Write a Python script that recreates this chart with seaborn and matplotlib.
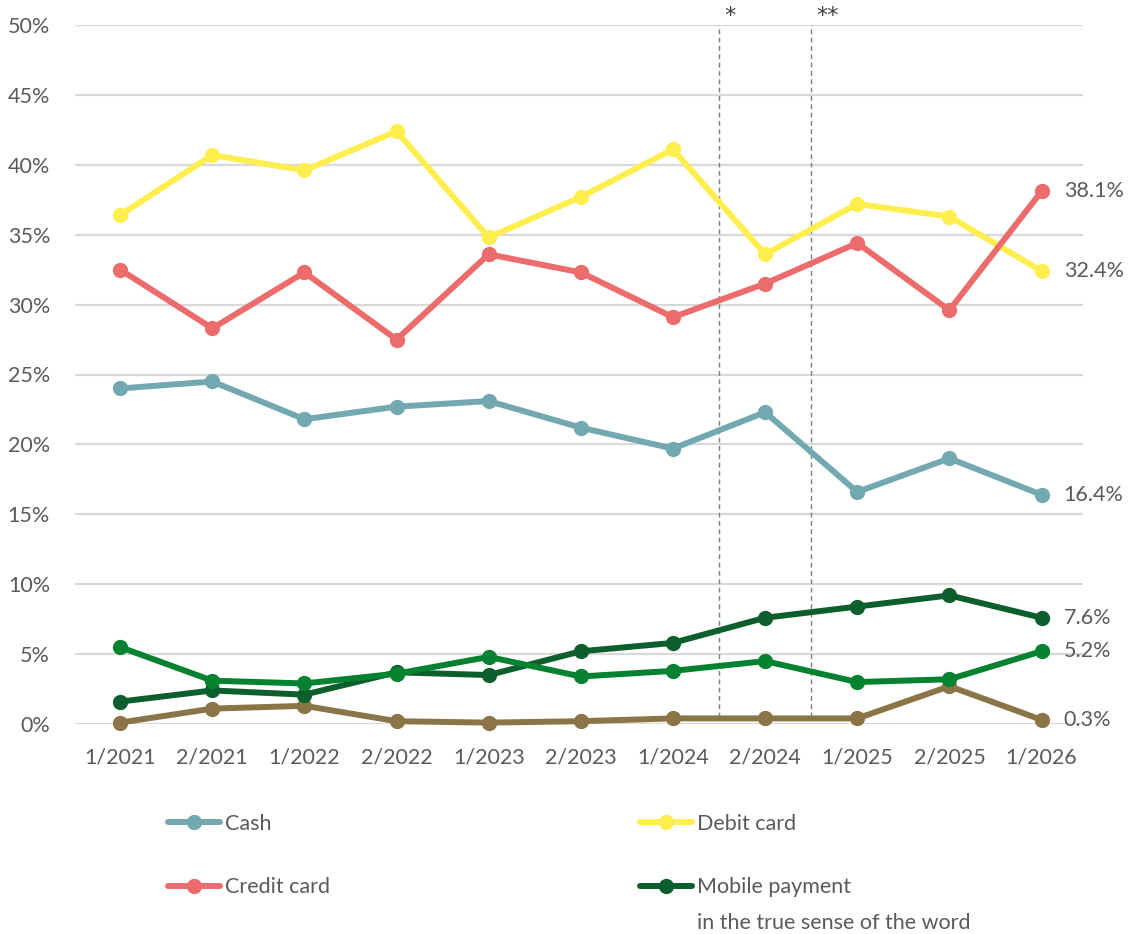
import numpy as np
import pandas as pd
import matplotlib
matplotlib.use("Agg")
import matplotlib.pyplot as plt
import seaborn as sns

# Survey periods (half-year / year)
periods = ["1/2021", "2/2021", "1/2022", "2/2022", "1/2023", "2/2023",
           "1/2024", "2/2024", "1/2025", "2/2025", "1/2026"]

# Share of payments by method, in percent
cash = [24.0, 24.5, 21.8, 22.7, 23.1, 21.2, 19.7, 22.3, 16.6, 19.0, 16.4]
debit_card = [36.4, 40.7, 39.6, 42.4, 34.8, 37.7, 41.1, 33.6, 37.2, 36.3, 32.4]
credit_card = [32.5, 28.3, 32.3, 27.5, 33.6, 32.3, 29.1, 31.5, 34.4, 29.6, 38.1]
mobile_payment = [1.6, 2.4, 2.1, 3.7, 3.5, 5.2, 5.8, 7.6, 8.4, 9.2, 7.6]
other_a = [5.5, 3.1, 2.9, 3.6, 4.8, 3.4, 3.8, 4.5, 3.0, 3.2, 5.2]
other_b = [0.1, 1.1, 1.3, 0.2, 0.1, 0.2, 0.4, 0.4, 0.4, 2.7, 0.3]

series_names = ["Cash", "Debit card", "Credit card", "Other B",
                "Mobile payment", "Other A"]
series_values = [cash, debit_card, credit_card, other_b, mobile_payment, other_a]
series_colors = ["#72A8B0", "#FFEE4D", "#EC6B6B", "#8B7547", "#0C5E2C", "#04822F"]

# Method-change markers between periods
break_positions = [6.5, 7.5]
break_marks = ["*", "**"]

df = pd.DataFrame({
    "period": periods * len(series_names),
    "share": np.concatenate(series_values),
    "method": np.repeat(series_names, len(periods)),
})

sns.set_theme(style="white")
plt.rcParams["font.family"] = ["Lato", "DejaVu Sans"]
plt.rcParams["font.weight"] = "normal"

TXT = "#5A5A5A"
W, H = 1128, 934
fig = plt.figure(figsize=(W / 100, H / 100), dpi=100)
ax = fig.add_axes([75 / W, 1 - 724 / H, (1083 - 75) / W, (724 - 25) / H])

sns.lineplot(data=df, x="period", y="share", hue="method",
             hue_order=series_names, palette=series_colors,
             marker="o", markersize=11, markeredgewidth=0,
             linewidth=4.3, sort=False, legend=False, ax=ax)
for ln in ax.lines:
    ln.set_clip_on(False)
    ln.set_solid_capstyle("round")
    ln.set_solid_joinstyle("round")
series_lines = list(ax.lines)

ax.set_xlim(-0.49, 10.45)
ax.set_ylim(0, 50)
ax.set_yticks(range(0, 51, 5))
ax.set_yticklabels([f"{v}%" for v in range(0, 51, 5)])
ax.set_xticks(range(len(periods)))
ax.set_xticklabels(periods)
ax.set_xlabel("")
ax.set_ylabel("")
ax.set_axisbelow(True)
ax.yaxis.grid(True, color="#D9D9D9", linewidth=1.6)
ax.xaxis.grid(False)
for s in ax.spines.values():
    s.set_visible(False)
ax.tick_params(axis="y", length=0, pad=18, labelsize=15.5, labelcolor=TXT)
ax.tick_params(axis="x", length=0, pad=17, labelsize=15.5, labelcolor=TXT)

# Dashed separators with footnote marks
ax.vlines(break_positions, 0.5, 50, colors="#7F7F7F", linewidth=1.0,
          linestyles=(0, (3.5, 2.5)), zorder=1.5)
for xp, mark in zip(break_positions, break_marks):
    ax.annotate(mark, (xp, 50), xytext=(4, -1), textcoords="offset points",
                ha="left", va="bottom", fontsize=16, color="#404040",
                family="DejaVu Sans")

# End-of-series value labels
for vals in series_values:
    v = vals[-1]
    ax.annotate(f"{v:.1f}%", (len(periods) - 1, v), xytext=(16, 0),
                textcoords="offset points", ha="left", va="center",
                fontsize=15.5, color=TXT, annotation_clip=False)

# Legends (two columns)
leg_kw = dict(frameon=False, fontsize=15.5, handlelength=2.4, handletextpad=0.25,
              labelspacing=2.0, borderpad=0, borderaxespad=0, loc="upper left",
              labelcolor=TXT)
idx = {n: i for i, n in enumerate(series_names)}
leg1 = fig.legend([series_lines[idx["Cash"]], series_lines[idx["Credit card"]]],
                  ["Cash", "Credit card"], bbox_to_anchor=(168 / W, 1 - 814 / H), **leg_kw)
leg2 = fig.legend([series_lines[idx["Debit card"]], series_lines[idx["Mobile payment"]]],
                  ["Debit card", "Mobile payment"], bbox_to_anchor=(640 / W, 1 - 814 / H), **leg_kw)

fig.canvas.draw()
t = leg2.get_texts()[1]
bb = t.get_window_extent()
fig.text(bb.x0 / W, (bb.y0 - 16) / H, "in the true sense of the word",
         ha="left", va="top", fontsize=15.5, color=TXT)

fig.savefig("out.png", dpi=100, facecolor="white")
